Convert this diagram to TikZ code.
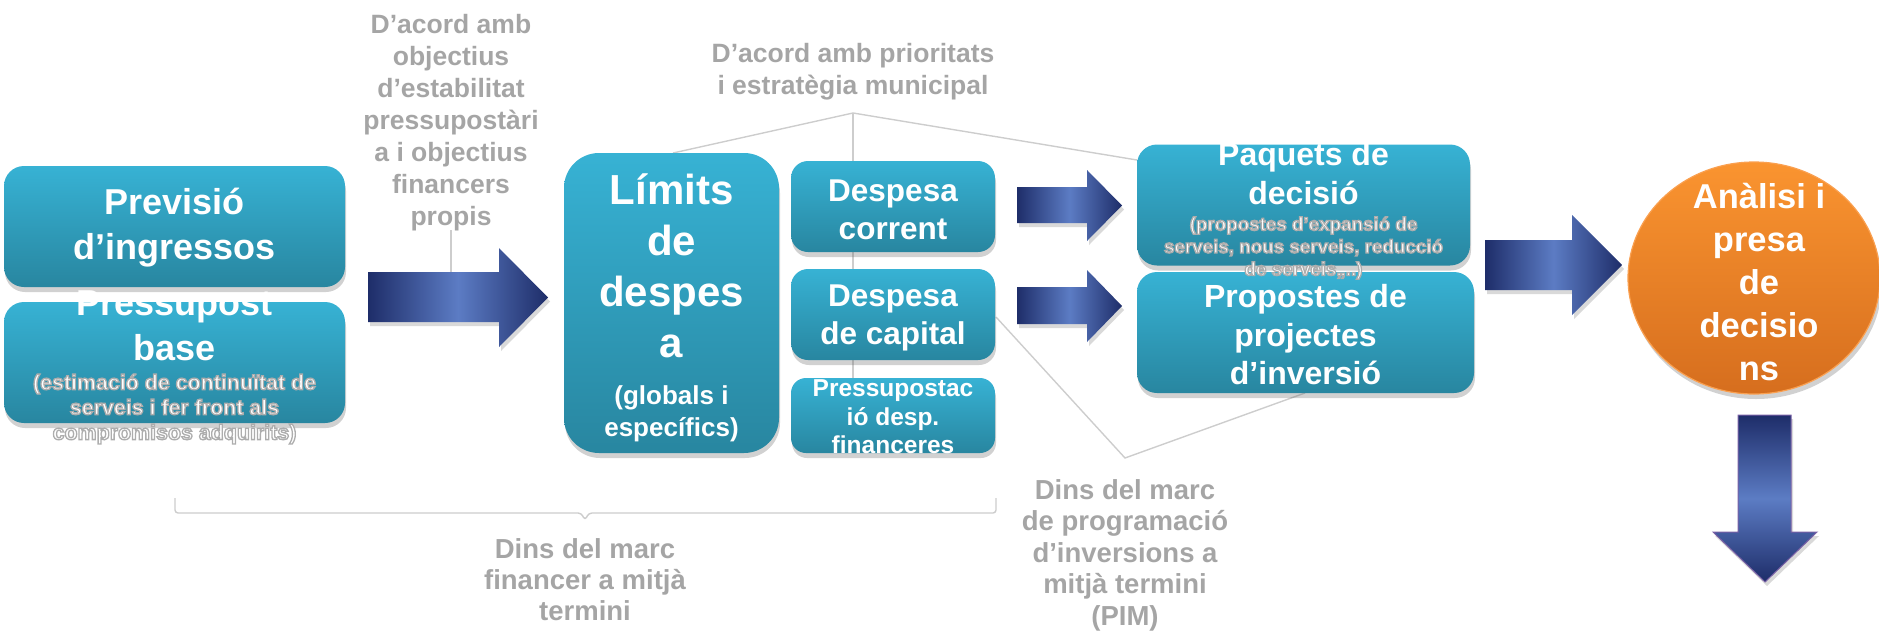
\documentclass[tikz,border=0pt]{standalone}
\usepackage{fontspec}
\setmainfont{Liberation Sans}
\usetikzlibrary{shadows,shapes.geometric}
\definecolor{boxtop}{RGB}{55,178,212}
\definecolor{boxbot}{RGB}{40,134,160}
\definecolor{arrdark}{RGB}{30,45,105}
\definecolor{arrlight}{RGB}{92,124,196}
\definecolor{txtgray}{RGB}{165,165,165}
\definecolor{linegray}{RGB}{205,205,205}
\definecolor{orgtop}{RGB}{250,148,48}
\definecolor{orgbot}{RGB}{214,110,30}
\definecolor{orgline}{RGB}{250,160,80}
\definecolor{arrline}{RGB}{120,95,165}
\tikzset{
  bluebox/.style={draw=none, top color=boxtop, bottom color=boxbot, inner sep=0pt,
    drop shadow={shadow xshift=1pt, shadow yshift=-5pt, opacity=0.3, fill=black!60}},
  wtxt/.style={text=white, font=\bfseries, align=center, inner sep=0pt},
  gtxt/.style={text=txtgray, font=\bfseries, align=center, inner sep=0pt},
  glines/.style={draw=linegray, line width=1.4pt},
  harrow/.style={left color=arrdark, right color=arrdark, middle color=arrlight,
    drop shadow={shadow xshift=2pt, shadow yshift=-4pt, opacity=0.25, fill=black!60}},
  varrow/.style={top color=arrdark, bottom color=arrdark, middle color=arrlight, draw=arrline, line width=1pt,
    drop shadow={shadow xshift=2pt, shadow yshift=-4pt, opacity=0.25, fill=black!60}},
}
% white text with a thin gray outline (fill + stroke text rendering)
\newcommand{\halotxt}[1]{\special{pdf:literal direct 0.68 G 1.3 w 2 Tr}#1\special{pdf:literal direct 0 Tr}}
\begin{document}
\begin{tikzpicture}[x=1pt,y=-1pt]
\useasboundingbox (0,0) rectangle (1879,632);

% gray connector lines (behind boxes)
\coordinate (apex) at (853,113);
\coordinate (limtop) at (673,153);
\coordinate (vbot) at (853,378);
\coordinate (paqleft) at (1137,160);
\coordinate (capr) at (996,317);
\coordinate (vvert) at (1125,458);
\coordinate (propbot) at (1305,393);
\coordinate (objtop) at (451,230);
\coordinate (objbot) at (451,272);
\draw[glines] (limtop) -- (apex) -- (paqleft);
\draw[glines] (apex) -- (vbot);
\draw[glines] (capr) -- (vvert) -- (propbot);
\draw[glines] (objtop) -- (objbot);

% left boxes
\node[bluebox, rounded corners=20pt, minimum width=341pt, minimum height=121pt] (prev) at (174.5,226.5) {};
\node[wtxt, font=\bfseries\fontsize{36}{45}\selectfont] (prevt) at (174.5,228) {Previsió\\d’ingressos};
\node[bluebox, rounded corners=20pt, minimum width=341pt, minimum height=121pt] (pb) at (174.5,362.5) {};
\node[wtxt, font=\bfseries\fontsize{36}{45}\selectfont] (pbt) at (174.5,326) {Pressupost\\base};
\node[wtxt, font=\bfseries\fontsize{21.4}{25}\selectfont] (pbs) at (174.5,409) {\halotxt{(estimació de continuïtat de\\serveis i fer front als\\compromisos adquirits)}};

% top-left gray text
\node[gtxt, font=\bfseries\fontsize{26.5}{32}\selectfont] (obj) at (451,122.5) {D’acord amb\\objectius\\d’estabilitat\\pressupostàri\\a i objectius\\financers\\propis};

% arrow 1
\path[harrow] (368,272) -- (499,272) -- (499,248) -- (548,297.5) -- (499,347) -- (499,322) -- (368,322) -- cycle;

% Limits box
\node[bluebox, rounded corners=35pt, minimum width=215pt, minimum height=300pt] (lim) at (671.5,303) {};
\node[wtxt, font=\bfseries\fontsize{42}{51}\selectfont] (limt) at (671.5,266) {Límits\\de\\despes\\a};
\node[wtxt, font=\bfseries\fontsize{26}{32}\selectfont] (lims) at (671.5,414) {(globals i\\específics)};

% despesa boxes
\node[bluebox, rounded corners=17pt, minimum width=204pt, minimum height=91pt] (dc) at (893,206.5) {};
\node[wtxt, font=\bfseries\fontsize{31.5}{38}\selectfont] (dct) at (893,210) {Despesa\\corrent};
\node[bluebox, rounded corners=17pt, minimum width=204pt, minimum height=91pt] (dk) at (893,314.5) {};
\node[wtxt, font=\bfseries\fontsize{31.5}{38}\selectfont] (dkt) at (893,317.5) {Despesa\\de capital};
\node[bluebox, rounded corners=15pt, minimum width=204pt, minimum height=75pt] (pf) at (893,415.5) {};
\node[wtxt, font=\bfseries\fontsize{24.5}{28.5}\selectfont] (pft) at (893,417) {Pressupostac\\ió desp.\\financeres};

% top middle gray text
\node[gtxt, font=\bfseries\fontsize{26.5}{32}\selectfont] (prio) at (853,72) {D’acord amb prioritats\\i estratègia municipal};

% small arrows
\path[harrow] (1017,187) -- (1087,187) -- (1087,170) -- (1122,205.5) -- (1087,241) -- (1087,223) -- (1017,223) -- cycle;
\path[harrow] (1017,287) -- (1087,287) -- (1087,270) -- (1122,306) -- (1087,342) -- (1087,324) -- (1017,324) -- cycle;

% right boxes
\node[bluebox, rounded corners=20pt, minimum width=333pt, minimum height=121pt] (paq) at (1303.5,205) {};
\node[wtxt, font=\bfseries\fontsize{32}{39}\selectfont] (paqt) at (1303.5,174) {Paquets de\\decisió};
\node[bluebox, rounded corners=20pt, minimum width=337pt, minimum height=121pt] (prop) at (1305.5,332.5) {};
\node[wtxt, font=\bfseries\fontsize{32}{38.5}\selectfont] (propt) at (1305.5,335) {Propostes de\\projectes\\d’inversió};
\node[wtxt, font=\bfseries\fontsize{18.8}{22.5}\selectfont] (paqs) at (1303.5,248) {\halotxt{(propostes d’expansió de\\serveis, nous serveis, reducció\\de serveis,,..)}};

% arrow 2
\path[harrow] (1485,240) -- (1572,240) -- (1572,215) -- (1622,265) -- (1572,315) -- (1572,290) -- (1485,290) -- cycle;

% ellipse
\node[ellipse, draw=orgline, line width=1.2pt, top color=orgtop, bottom color=orgbot,
  minimum width=252pt, minimum height=232pt, inner sep=0pt,
  drop shadow={shadow xshift=2pt, shadow yshift=-5pt, opacity=0.3, fill=black!60}] (ana) at (1754,278) {};
\node[wtxt, font=\bfseries\fontsize{34.5}{43}\selectfont] (anat) at (1759,282) {Anàlisi i\\presa\\de\\decisio\\ns};

% down arrow
\path[varrow] (1738,415) -- (1791,415) -- (1791,532) -- (1817,532) -- (1765,582) -- (1713,532) -- (1738,532) -- cycle;

% bottom brace
\coordinate (brl) at (175,498);
\coordinate (brm) at (585,520);
\coordinate (brr) at (996,498);
\draw[draw=linegray, line width=1.4pt, rounded corners=3pt] (brl) -- (175,513) -- (581,513) -- (brm) -- (589,513) -- (996,513) -- (brr);

% bottom texts
\node[gtxt, font=\bfseries\fontsize{27.5}{31}\selectfont] (fin) at (585,580) {Dins del marc\\financer a mitjà\\termini};
\node[gtxt, font=\bfseries\fontsize{27.5}{31.5}\selectfont] (pim) at (1125,555) {Dins del marc\\de programació\\d’inversions a\\mitjà termini\\(PIM)};
\end{tikzpicture}
\end{document}
